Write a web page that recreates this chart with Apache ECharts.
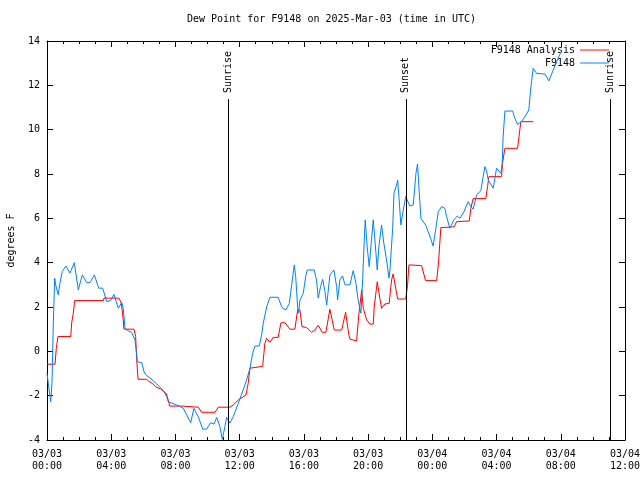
<!DOCTYPE html>
<html><head><meta charset="utf-8">
<script src="https://cdn.jsdelivr.net/npm/echarts@6/dist/echarts.min.js"></script>
<style>html,body{margin:0;padding:0;background:#fff}#c{width:640px;height:480px}</style>
</head><body><div id="c"></div>
<script>
const titleText = 'Dew Point for F9148 on 2025-Mar-03 (time in UTC)';
const yAxisName = 'degrees F';
const xTickLabels = ['03/03\n00:00','03/03\n04:00','03/03\n08:00','03/03\n12:00','03/03\n16:00','03/03\n20:00','03/04\n00:00','03/04\n04:00','03/04\n08:00','03/04\n12:00'];
const seriesNames = ['F9148 Analysis', 'F9148'];
// [hours since 03/03 00:00 UTC, dew point F]
const analysisData = [
[0.00,-0.58],[0.50,-0.58],[0.58,0.13],[0.68,0.67],[1.48,0.67],[1.54,1.3],[1.64,1.72],[1.72,2.29],[3.50,2.29],[3.55,2.4],[4.48,2.4],
[4.63,2.17],[4.75,1.42],[4.79,1.0],[5.42,1.0],[5.52,0.67],[5.59,-0.4],[5.67,-1.26],[6.21,-1.26],[6.35,-1.36],[6.56,-1.44],
[6.77,-1.6],[7.08,-1.7],[7.43,-1.9],[7.55,-2.2],[7.64,-2.47],[8.42,-2.47],[8.53,-2.53],[9.42,-2.52],[9.53,-2.6],[9.63,-2.75],
[10.46,-2.75],[10.67,-2.52],[11.39,-2.52],[11.60,-2.42],[11.91,-2.2],[12.39,-1.97],[12.53,-1.44],[12.64,-0.76],[13.43,-0.68],
[13.57,0.36],[13.68,0.58],[13.89,0.41],[14.09,0.63],[14.40,0.63],[14.57,1.29],[14.82,1.29],[15.13,1.0],[15.44,1.0],[15.61,1.87],
[15.75,1.87],[15.88,1.12],[16.17,1.07],[16.48,0.86],[16.69,0.96],[16.89,1.18],[17.14,0.86],[17.37,0.86],[17.62,1.9],[17.89,0.96],
[18.35,0.96],[18.60,1.76],[18.80,0.74],[18.87,0.55],[19.28,0.47],[19.43,1.72],[19.60,2.77],[19.70,1.94],[19.91,1.42],[20.11,1.23],
[20.32,1.23],[20.38,2.0],[20.57,3.14],[20.73,2.4],[20.84,1.94],[21.05,2.14],[21.31,2.16],[21.46,3.22],[21.56,3.49],[21.84,2.36],
[22.34,2.36],[22.46,2.99],[22.54,3.9],[23.33,3.87],[23.58,3.19],[24.27,3.19],[24.39,4.05],[24.53,5.58],[25.36,5.62],[25.51,5.85],
[26.30,5.88],[26.40,6.45],[26.54,6.89],[27.33,6.89],[27.44,7.43],[27.52,7.88],[28.31,7.88],[28.37,8.48],[28.52,9.16],[29.31,9.16],
[29.41,9.76],[29.51,10.36],[30.28,10.36]
];
const stationData = [
[0.00,-1.0],[0.23,-2.27],[0.31,-1.4],[0.35,-0.2],[0.39,1.2],[0.48,3.3],[0.54,3.0],[0.70,2.55],[0.81,3.1],[0.95,3.6],[1.18,3.85],
[1.43,3.53],[1.70,4.0],[1.95,2.77],[2.20,3.45],[2.47,3.1],[2.68,3.1],[2.95,3.45],[3.22,2.85],[3.47,2.85],[3.72,2.24],[3.97,2.3],
[4.17,2.57],[4.44,1.94],[4.65,2.2],[4.75,1.94],[4.86,1.04],[5.00,0.95],[5.27,0.86],[5.48,0.51],[5.59,-0.16],[5.62,-0.47],[5.90,-0.51],
[6.04,-0.92],[6.21,-1.1],[6.41,-1.2],[6.83,-1.47],[7.24,-1.77],[7.45,-2.04],[7.55,-2.27],[7.66,-2.35],[8.08,-2.42],[8.49,-2.57],
[8.70,-2.87],[8.95,-3.22],[9.15,-2.57],[9.42,-2.95],[9.70,-3.51],[9.94,-3.51],[10.19,-3.22],[10.40,-3.28],[10.57,-2.98],[10.77,-3.4],
[10.92,-3.97],[11.08,-3.4],[11.19,-2.98],[11.39,-3.24],[11.60,-2.95],[11.91,-2.35],[12.22,-1.74],[12.43,-1.3],[12.64,-0.77],
[12.81,-0.09],[12.95,0.24],[13.22,0.24],[13.37,0.74],[13.47,1.27],[13.68,2.0],[13.89,2.44],[14.40,2.44],[14.57,2.09],[14.68,1.94],
[14.88,1.87],[15.09,2.16],[15.24,2.99],[15.40,3.9],[15.49,3.37],[15.61,2.0],[15.67,1.72],[15.75,2.3],[15.96,2.62],[16.13,3.45],
[16.21,3.67],[16.64,3.67],[16.79,3.22],[16.89,2.4],[17.04,2.92],[17.17,3.25],[17.31,2.7],[17.42,2.09],[17.62,3.45],[17.87,3.67],
[18.04,2.92],[18.10,2.32],[18.24,3.22],[18.41,3.4],[18.56,3.0],[18.87,3.0],[19.07,3.64],[19.24,3.07],[19.38,2.32],[19.55,1.72],
[19.66,3.22],[19.76,5.02],[19.82,5.93],[19.94,4.72],[20.07,3.82],[20.19,4.87],[20.32,5.93],[20.49,4.42],[20.57,3.67],[20.67,4.72],
[20.84,5.7],[20.98,4.87],[21.15,4.12],[21.30,3.3],[21.36,3.67],[21.53,5.55],[21.61,7.13],[21.77,7.5],[21.84,7.73],[21.92,6.98],
[22.04,5.7],[22.19,6.38],[22.34,6.98],[22.40,6.9],[22.60,6.56],[22.81,6.6],[22.98,8.03],[23.08,8.45],[23.16,7.43],[23.29,6.0],
[23.60,5.67],[23.74,5.4],[23.89,5.1],[24.05,4.75],[24.22,5.55],[24.37,6.3],[24.58,6.53],[24.78,6.45],[24.89,6.07],[25.09,5.55],
[25.34,5.93],[25.55,6.1],[25.72,6.0],[25.97,6.3],[26.23,6.75],[26.40,6.53],[26.54,6.41],[26.76,7.05],[27.02,7.25],[27.27,8.33],
[27.38,8.15],[27.48,7.73],[27.79,7.36],[28.00,8.26],[28.27,8.03],[28.35,8.48],[28.41,9.68],[28.52,10.84],[29.00,10.84],[29.14,10.51],
[29.31,10.24],[29.56,10.36],[29.83,10.66],[30.01,10.89],[30.12,11.79],[30.28,12.77],[30.49,12.54],[31.01,12.51],[31.26,12.2],
[31.53,12.69],[31.74,13.07],[31.99,13.47]
];
const sunTimes = [11.29, 22.35, 35.09];
const sunLabels = ['Sunrise', 'Sunset', 'Sunrise'];

const FONT = 'DejaVu Sans Mono';
const SUN_LINE_TOP = 11.38;
const SUN_LABEL_BASE = 11.65;
const txt = {fontFamily: FONT, fontSize: 10, color: '#000'};
const black = {color: '#000', width: 1};

const chart = echarts.init(document.getElementById('c'));
const xBase = {
  type: 'value', min: 0, max: 36, interval: 4,
  axisLine: {show: true, onZero: false, lineStyle: black},
  axisTick: {show: true, inside: true, length: 6, lineStyle: black},
  minorTick: {show: true, splitNumber: 4, length: 3, lineStyle: black},
  splitLine: {show: false}, minorSplitLine: {show: false}
};
const yBase = {
  type: 'value', min: -4, max: 14, interval: 2,
  axisLine: {show: true, onZero: false, lineStyle: black},
  axisTick: {show: true, inside: true, length: 6, lineStyle: black},
  splitLine: {show: false}
};
chart.setOption({
  animation: false,
  backgroundColor: '#fff',
  title: {text: titleText, left: 187, top: 14, padding: 0,
    textStyle: Object.assign({fontWeight: 'normal'}, txt)},
  legend: {
    orient: 'vertical', right: 31, top: 45, padding: 0, align: 'right',
    itemWidth: 29, itemHeight: 10, itemGap: 3, symbolKeepAspect: true,
    textStyle: txt,
    data: [{name: seriesNames[0], icon: 'path://M0,0H30V1H0Z'},
           {name: seriesNames[1], icon: 'path://M0,0H30V1H0Z'}]
  },
  grid: {left: 47, right: 15, top: 41, bottom: 40, containLabel: false, outerBoundsMode: 'none'},
  xAxis: [
    Object.assign({}, xBase, {position: 'bottom',
      axisLabel: Object.assign({formatter: v => xTickLabels[Math.round(v / 4)], lineHeight: 12, margin: 8}, txt)}),
    Object.assign({}, xBase, {position: 'top', axisLabel: {show: false}})
  ],
  yAxis: [
    Object.assign({}, yBase, {position: 'left', name: yAxisName, nameLocation: 'middle', nameGap: 31,
      nameTextStyle: txt, axisLabel: Object.assign({margin: 7}, txt)}),
    Object.assign({}, yBase, {position: 'right', axisLabel: {show: false}})
  ],
  series: [
    {name: seriesNames[0], type: 'line', data: analysisData, symbol: 'none', showSymbol: false,
     lineStyle: {color: '#ff0000', width: 1}, itemStyle: {color: '#ff0000'}, z: 3},
    {name: seriesNames[1], type: 'line', data: stationData, symbol: 'none', showSymbol: false,
     lineStyle: {color: '#0080ff', width: 1}, itemStyle: {color: '#0080ff'}, z: 4},
    {type: 'line', data: [], z: 6, silent: true,
     markLine: {silent: true, symbol: 'none', animation: false, label: {show: false},
       lineStyle: {color: '#000', width: 1, type: 'solid'},
       data: sunTimes.map(t => [{coord: [t, -4]}, {coord: [t, SUN_LINE_TOP]}])}}
  ]
});
const graphics = sunTimes.map((t, i) => {
  const p = chart.convertToPixel({xAxisIndex: 0, yAxisIndex: 0}, [t, SUN_LABEL_BASE]);
  return {type: 'text', x: p[0], y: p[1], rotation: Math.PI / 2, z: 10,
    style: {text: sunLabels[i], font: '10px ' + FONT, fill: '#000', align: 'left', verticalAlign: 'middle'}};
});
chart.setOption({graphic: graphics});
</script></body></html>
